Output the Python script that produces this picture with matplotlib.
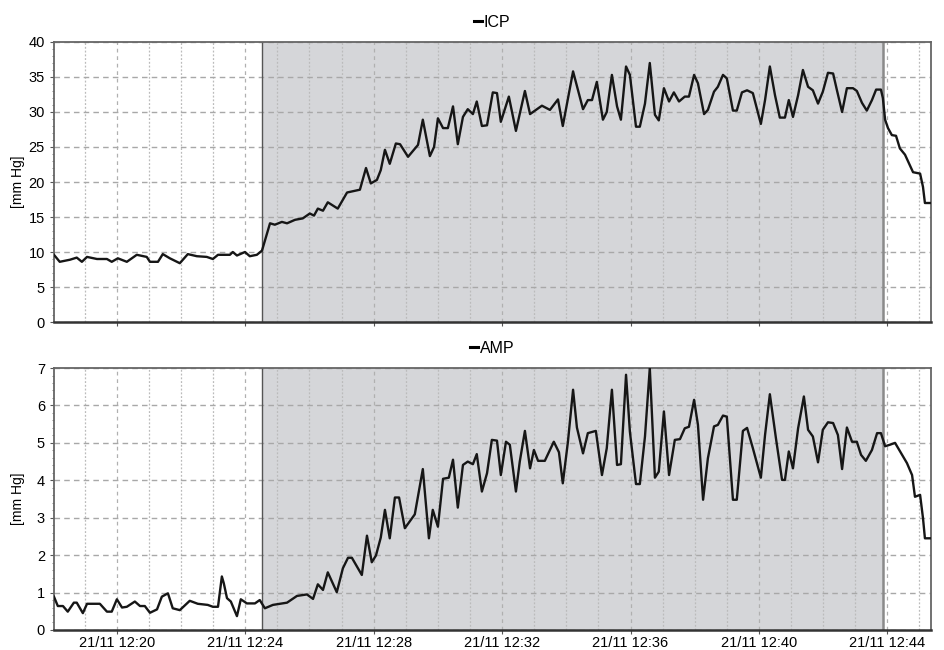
import matplotlib
matplotlib.use("Agg")
import matplotlib.pyplot as plt
from matplotlib.lines import Line2D
from matplotlib.ticker import MultipleLocator

plt.rcParams['font.family'] = ['Liberation Sans', 'DejaVu Sans']

# time in minutes after 12:00 on 21/11
icp_t = [18.04, 18.22, 18.54, 18.75, 18.91, 19.07, 19.38, 19.69, 19.84, 20.03,
         20.31, 20.62, 20.93, 21.03, 21.28, 21.43, 21.65, 21.96, 22.21, 22.49,
         22.80, 22.99, 23.15, 23.52, 23.61, 23.74, 23.99, 24.14, 24.36, 24.52,
         24.77, 24.92, 25.14, 25.30, 25.55, 25.79, 26.01, 26.14, 26.26, 26.42,
         26.57, 26.88, 27.17, 27.57, 27.76, 27.91, 28.10, 28.22, 28.35, 28.50,
         28.69, 28.82, 29.07, 29.38, 29.53, 29.75, 29.88, 30.00, 30.16, 30.31,
         30.47, 30.62, 30.78, 30.93, 31.09, 31.21, 31.37, 31.53, 31.71, 31.84,
         31.96, 32.21, 32.43, 32.71, 32.87, 33.24, 33.49, 33.74, 33.89, 34.21,
         34.52, 34.67, 34.80, 34.95, 35.14, 35.26, 35.42, 35.58, 35.70, 35.86,
         35.98, 36.17, 36.29, 36.45, 36.60, 36.76, 36.88, 37.04, 37.20, 37.35,
         37.51, 37.69, 37.82, 37.98, 38.10, 38.29, 38.41, 38.60, 38.72, 38.88,
         39.00, 39.19, 39.31, 39.47, 39.63, 39.81, 40.06, 40.19, 40.34, 40.50,
         40.65, 40.81, 40.93, 41.06, 41.22, 41.37, 41.53, 41.68, 41.84, 41.99,
         42.15, 42.31, 42.43, 42.59, 42.74, 42.93, 43.05, 43.21, 43.36, 43.52,
         43.65, 43.80, 43.86, 43.93, 44.02, 44.14, 44.27, 44.39, 44.55, 44.70,
         44.80, 45.02, 45.11, 45.17, 45.33]
icp_v = [9.6, 8.6, 8.9, 9.2, 8.6, 9.3, 9.0, 9.0, 8.6, 9.1,
         8.6, 9.6, 9.3, 8.6, 8.6, 9.7, 9.1, 8.4, 9.7, 9.4,
         9.3, 9.0, 9.6, 9.6, 10.0, 9.5, 10.0, 9.4, 9.6, 10.2,
         14.1, 13.9, 14.3, 14.1, 14.6, 14.8, 15.5, 15.2, 16.2, 15.9,
         17.1, 16.2, 18.5, 18.9, 22.0, 19.8, 20.3, 21.7, 24.6, 22.6,
         25.5, 25.4, 23.6, 25.3, 28.9, 23.7, 25.0, 29.1, 27.7, 27.7,
         30.8, 25.4, 29.3, 30.4, 29.7, 31.5, 28.0, 28.1, 32.8, 32.7,
         28.6, 32.2, 27.3, 33.0, 29.7, 30.9, 30.3, 31.8, 28.0, 35.8,
         30.4, 31.7, 31.7, 34.3, 28.9, 30.0, 35.3, 30.8, 28.9, 36.5,
         35.3, 27.9, 27.9, 31.2, 37.0, 29.6, 28.8, 33.4, 31.5, 32.8,
         31.5, 32.2, 32.2, 35.3, 34.1, 29.7, 30.3, 32.9, 33.6, 35.3,
         34.8, 30.2, 30.2, 32.8, 33.1, 32.7, 28.3, 31.7, 36.5, 32.4,
         29.2, 29.2, 31.7, 29.3, 32.4, 36.0, 33.6, 33.1, 31.2, 32.9,
         35.6, 35.5, 33.1, 30.0, 33.4, 33.4, 33.0, 31.3, 30.2, 31.7,
         33.2, 33.2, 32.0, 28.9, 27.7, 26.7, 26.6, 24.8, 23.9, 22.4,
         21.4, 21.2, 19.3, 17.0, 17.0]

amp_t = [18.04, 18.16, 18.32, 18.47, 18.66, 18.75, 18.94, 19.07, 19.47, 19.69,
         19.84, 20.00, 20.16, 20.31, 20.56, 20.72, 20.87, 21.03, 21.25, 21.40,
         21.59, 21.74, 21.96, 22.27, 22.52, 22.83, 22.99, 23.15, 23.27, 23.33,
         23.43, 23.55, 23.74, 23.86, 24.05, 24.30, 24.45, 24.61, 24.86, 25.30,
         25.61, 25.92, 26.11, 26.26, 26.42, 26.57, 26.85, 27.04, 27.20, 27.32,
         27.63, 27.79, 27.94, 28.07, 28.22, 28.35, 28.50, 28.66, 28.79, 28.97,
         29.28, 29.53, 29.72, 29.84, 30.00, 30.16, 30.34, 30.47, 30.62, 30.78,
         30.93, 31.09, 31.21, 31.37, 31.53, 31.68, 31.84, 31.96, 32.12, 32.24,
         32.43, 32.55, 32.71, 32.87, 32.99, 33.12, 33.33, 33.61, 33.77, 33.89,
         34.05, 34.21, 34.33, 34.52, 34.67, 34.92, 35.11, 35.26, 35.42, 35.58,
         35.70, 35.86, 35.98, 36.17, 36.29, 36.45, 36.60, 36.76, 36.88, 37.04,
         37.20, 37.38, 37.54, 37.69, 37.82, 37.98, 38.10, 38.26, 38.41, 38.60,
         38.72, 38.88, 39.00, 39.19, 39.31, 39.50, 39.63, 39.81, 40.06, 40.19,
         40.34, 40.53, 40.72, 40.81, 40.93, 41.06, 41.22, 41.40, 41.53, 41.68,
         41.84, 41.99, 42.15, 42.31, 42.46, 42.59, 42.74, 42.90, 43.05, 43.18,
         43.33, 43.52, 43.68, 43.80, 43.93, 44.08, 44.24, 44.46, 44.61, 44.77,
         44.86, 45.02, 45.11, 45.17, 45.33]
amp_v = [0.89, 0.64, 0.64, 0.49, 0.73, 0.73, 0.45, 0.70, 0.70, 0.49,
         0.49, 0.82, 0.60, 0.62, 0.76, 0.64, 0.64, 0.46, 0.55, 0.89,
         0.98, 0.58, 0.53, 0.78, 0.70, 0.67, 0.62, 0.62, 1.43, 1.25,
         0.85, 0.76, 0.37, 0.82, 0.71, 0.71, 0.80, 0.58, 0.67, 0.73,
         0.91, 0.95, 0.83, 1.22, 1.07, 1.54, 1.01, 1.65, 1.93, 1.93,
         1.47, 2.52, 1.81, 1.99, 2.47, 3.21, 2.45, 3.54, 3.54, 2.72,
         3.09, 4.30, 2.45, 3.21, 2.76, 4.04, 4.07, 4.55, 3.27, 4.41,
         4.50, 4.43, 4.70, 3.70, 4.19, 5.08, 5.06, 4.14, 5.03, 4.95,
         3.70, 4.50, 5.32, 4.32, 4.81, 4.52, 4.52, 5.03, 4.75, 3.92,
         5.03, 6.42, 5.41, 4.72, 5.26, 5.32, 4.14, 4.86, 6.42, 4.41,
         4.43, 6.82, 5.30, 3.90, 3.90, 5.17, 7.00, 4.07, 4.23, 5.84,
         4.14, 5.08, 5.10, 5.39, 5.43, 6.15, 5.48, 3.48, 4.59, 5.44,
         5.48, 5.73, 5.70, 3.48, 3.48, 5.32, 5.40, 4.86, 4.07, 5.21,
         6.30, 5.12, 4.01, 4.01, 4.77, 4.32, 5.39, 6.24, 5.35, 5.17,
         4.48, 5.35, 5.55, 5.53, 5.21, 4.30, 5.41, 5.03, 5.03, 4.68,
         4.52, 4.81, 5.26, 5.26, 4.91, 4.95, 5.00, 4.68, 4.46, 4.14,
         3.56, 3.61, 2.99, 2.45, 2.45]

tick_minutes = [20, 24, 28, 32, 36, 40, 44]
tick_labels = ['21/11 12:%02d' % m for m in tick_minutes]
shade = (24.53, 43.87)
x_range = (18.04, 45.36)

fig = plt.figure(figsize=(9.45, 6.5), dpi=100)
ax1 = fig.add_axes([0.0571, 0.5046, 0.9281, 0.4308])
ax2 = fig.add_axes([0.0571, 0.0308, 0.9281, 0.4030])

panels = [(ax1, icp_t, icp_v, 'ICP', 40, 5, 1),
          (ax2, amp_t, amp_v, 'AMP', 7, 1, 0.2)]

for ax, t, v, name, ymax, ystep, yminor in panels:
    ax.set_xlim(*x_range)
    ax.set_ylim(0, ymax)
    ax.set_yticks(range(0, ymax + 1, ystep))
    ax.yaxis.set_minor_locator(MultipleLocator(yminor))
    ax.set_xticks(tick_minutes)
    ax.xaxis.set_minor_locator(MultipleLocator(1))
    ax.grid(True, which='major', axis='y', color='#a8a8a8', ls=(0, (4, 3)), lw=1.0)
    ax.grid(True, which='major', axis='x', color='#b0b0b0', ls=(0, (3, 3)), lw=0.9)
    ax.grid(True, which='minor', axis='x', color='#bbbbbb', ls=(0, (1.5, 1.5)), lw=0.9)
    ax.axvspan(shade[0], shade[1], color='#d5d6d9', zorder=1.5, lw=0)
    ax.axvline(shade[0], color='#555555', lw=1.0, zorder=1.6)
    ax.axvline(shade[1], color='#8a8a8a', lw=1.8, zorder=1.6)
    ax.plot(t, v, color='#161616', lw=1.7, zorder=3)
    ax.set_ylabel('[mm Hg]', fontsize=10, labelpad=6)
    ax.tick_params(axis='both', which='major', labelsize=10.5, length=3, color='#555555')
    ax.tick_params(axis='x', which='major', pad=1.5)
    ax.tick_params(axis='y', which='minor', length=1.5, color='#777777')
    ax.tick_params(axis='x', which='minor', length=0)
    for sp in ax.spines.values():
        sp.set_color('#666666')
        sp.set_linewidth(1.3)
    ax.spines['bottom'].set_color('#333333')
    ax.spines['bottom'].set_linewidth(1.8)
    ax.legend(handles=[Line2D([], [], color='black', lw=2.2)], labels=[name],
              loc='lower center', bbox_to_anchor=(0.5, 1.0), frameon=False,
              handlelength=0.45, handletextpad=0.15, fontsize=11.5,
              borderaxespad=0.35)
    ax.yaxis.set_label_coords(-0.033, 0.5)

ax1.set_xticklabels([])
ax2.set_xticklabels(tick_labels)

fig.savefig('out.png', dpi=100)
